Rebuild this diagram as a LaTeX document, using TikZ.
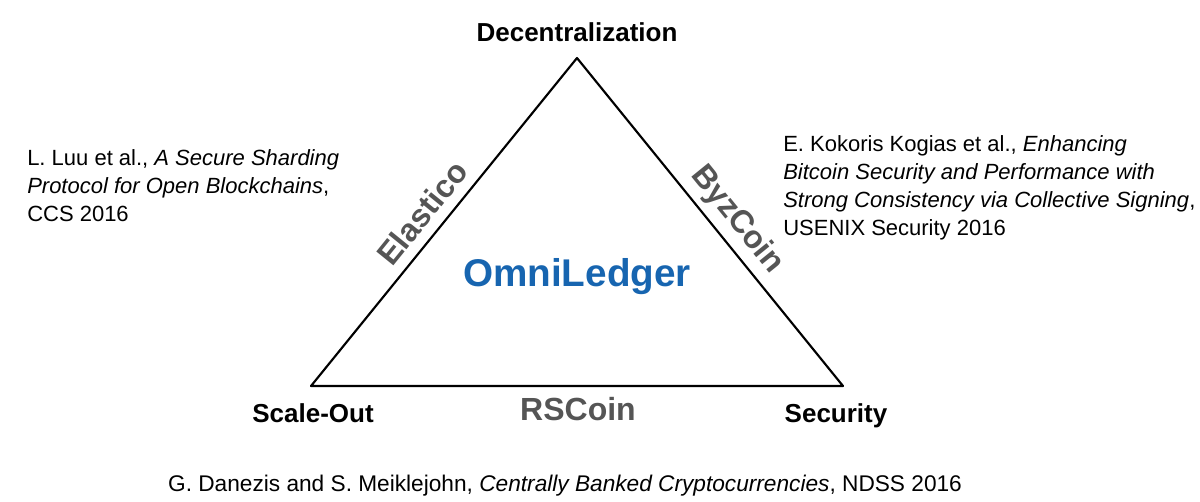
\documentclass[tikz,border=0pt]{standalone}
\usepackage{fontspec}
\setmainfont{Liberation Sans}
\usetikzlibrary{positioning}
\definecolor{omniblue}{RGB}{23,101,176}
\definecolor{sidegray}{RGB}{85,85,85}
\begin{document}
\begin{tikzpicture}[x=0.75pt, y=-0.75pt,
  corner/.style={font=\fontsize{19.5}{23}\selectfont\bfseries, inner sep=0pt},
  side/.style={font=\fontsize{24}{28}\selectfont\bfseries, text=sidegray, inner sep=0pt},
  cite/.style={font=\fontsize{16.5}{21}\selectfont, align=left, inner sep=0pt},
  edge/.style={line width=1.6pt, line join=round}]
\useasboundingbox (0,0) rectangle (1200,501);
\coordinate (apex) at (577,58);
\coordinate (scale) at (311,386);
\coordinate (sec) at (843,386);
\draw[edge] (apex) -- (scale) -- (sec) -- cycle;
\node[corner] (dec) at (577,32) {Decentralization};
\node[corner] (out) at (313,413) {Scale-Out};
\node[corner] (secur) at (836,416) {Security};
\node[side] (rsc) at (578,409) {RSCoin};
\node[side, rotate=51] (ela) at (422,213) {Elastico};
\node[side, rotate=-51] (byz) at (737,220) {ByzCoin};
\node[font=\fontsize{29}{34}\selectfont\bfseries, text=omniblue, inner sep=0pt] (omni) at (577,277) {OmniLedger};
\node[cite, anchor=north west] (luu) at (27,149) {L. Luu et al., \textit{A Secure Sharding}\\ \textit{Protocol for Open Blockchains},\\ CCS 2016};
\node[cite, anchor=north west] (kog) at (783,135) {E. Kokoris Kogias et al., \textit{Enhancing}\\ \textit{Bitcoin Security and Performance with}\\ \textit{Strong Consistency via Collective Signing},\\ USENIX Security 2016};
\node[cite, font=\fontsize{17}{21}\selectfont, anchor=base] (dan) at (565,491) {G. Danezis and S. Meiklejohn, \textit{Centrally Banked Cryptocurrencies}, NDSS 2016};
\end{tikzpicture}
\end{document}
